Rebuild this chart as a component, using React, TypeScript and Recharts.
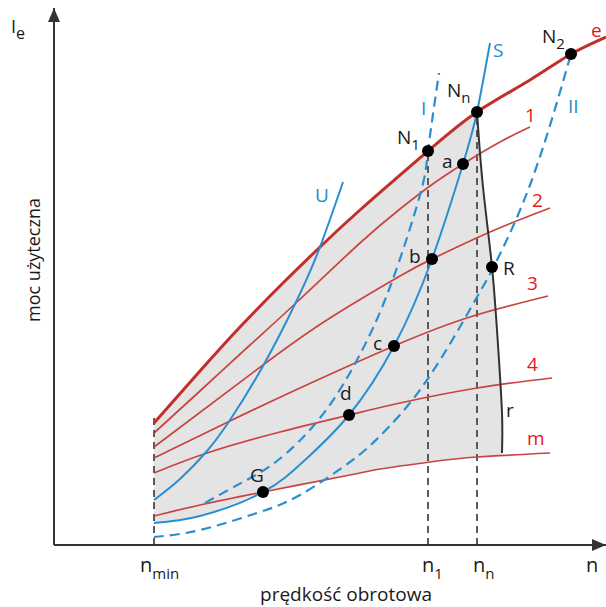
import {
  Area,
  ComposedChart,
  Line,
  ReferenceDot,
  ReferenceLine,
  Scatter,
  XAxis,
  YAxis,
} from "recharts";

const C = {
  redThick: "#c22f2a",
  red: "#c9443f",
  redText: "#e5161d",
  blue: "#2a8fd0",
  blueText: "#1d8ad4",
  ink: "#1a1a1a",
  axis: "#333333",
  guide: "#4a4a4a",
  shade: "#e4e4e4",
};
const FONT = "'Open Sans', 'Noto Sans', sans-serif";

// red curves (e = full load, 1..4, m = minimum)
const eX = [100, 146, 186, 229, 266, 306, 374, 423, 476, 517, 552];
const eY = [122, 174, 218, 262, 298, 335, 394, 433, 465, 491, 508];
const c1X = [100, 146, 196, 243, 306, 346, 376, 409, 446, 476];
const c1Y = [112, 154, 200, 243, 302, 336, 359, 381, 403, 418];
const c2X = [100, 209, 276, 346, 378, 436, 496];
const c2Y = [98, 180, 227, 269, 286, 313, 337];
const c3X = [100, 176, 246, 340, 416, 494];
const c3Y = [87, 124, 157, 199, 228, 249];
const c4X = [100, 153, 226, 295, 346, 423, 498];
const c4Y = [72, 92, 113, 130, 142, 157, 167];
const mX = [100, 146, 209, 296, 326, 376, 423, 496];
const mY = [29, 40, 53, 70, 76, 83, 88, 92];

// blue curves
const uX = [100, 126, 153, 176, 209, 243, 266, 289];
const uY = [45, 66, 94, 125, 179, 245, 298, 363];
const sX = [100, 146, 209, 251, 295, 340, 378, 409, 423, 436];
const sY = [22, 29, 53, 85, 130, 199, 286, 381, 433, 502];
const iX = [151, 189, 223, 266, 303, 336, 366, 374, 385];
const iY = [42, 63, 84, 127, 185, 258, 350, 394, 472];
const iiX = [100, 146, 203, 246, 296, 326, 373, 423, 439, 476, 517];
const iiY = [8, 15, 32, 50, 83, 109, 165, 248, 277, 360, 491];

// regulator line r
const rX = [423, 429, 438, 444, 448, 448];
const rY = [433, 358, 278, 200, 132, 92];

// shaded working area: under e, then under r
const shadeX = [100, 146, 186, 209, 229, 266, 306, 326, 374, 423];
const shadeLow = [22, 29, 44, 53, 57, 64, 72, 76, 83, 88];
const shadeHigh = [122, 174, 218, 241, 262, 298, 335, 352, 394, 433];
const shadeRX = [423, 429, 438, 444, 447.5, 448];
const shadeRLow = [88, 88, 89, 89, 90, 90];
const shadeRHigh = [433, 358, 278, 200, 132, 92];

// vertical guides n_min, n1, nn
const guideX = [100, 374, 423];
const guideTop = [127, 394, 433];

// marked points
const pointNames = ["N1", "Nn", "N2", "a", "b", "c", "d", "G", "R"];
const pointX = [374, 423, 517, 409, 378, 340, 295, 209, 438];
const pointY = [394, 433, 491, 381, 286, 199, 130, 53, 278];
const pointMain = ["N", "N", "N", "a", "b", "c", "d", "G", "R"];
const pointSub = ["1", "n", "2", "", "", "", "", "", ""];

// curve names
const curveNames = ["e", "1", "2", "3", "4", "m", "U", "S", "I", "II", "r"];
const curveLabelX = [537, 471, 478, 473, 473, 473, 261, 439, 367, 514, 452];
const curveLabelY = [508, 423, 338, 255, 174, 100, 343, 488, 430, 432, 128];

// x ticks
const tickVals = [100, 374, 423, 535];
const tickMain = ["n", "n", "n", "n"];
const tickSub = ["min", "1", "n", ""];

const zip = (xs: number[], ys: number[]) => xs.map((x, i) => ({ x, y: ys[i] }));

const labelOffset: Record<string, [number, number]> = {
  N1: [-31, -7],
  Nn: [-30, -15],
  N2: [-29, -11],
  a: [-21, 4],
  b: [-23, 4],
  c: [-21, 4],
  d: [-9, -15],
  G: [-13, -10],
  R: [11, 8],
};
const tickDx = [-14, -6, -4, -3];
const curveColor = [
  C.redText, C.redText, C.redText, C.redText, C.redText, C.redText,
  C.blueText, C.blueText, C.blueText, C.blueText, C.ink,
];

const redCurves = [
  { key: "e", xs: eX, ys: eY },
  { key: "1", xs: c1X, ys: c1Y },
  { key: "2", xs: c2X, ys: c2Y },
  { key: "3", xs: c3X, ys: c3Y },
  { key: "4", xs: c4X, ys: c4Y },
  { key: "m", xs: mX, ys: mY },
];

function NTick(props: any) {
  const { x, y, payload } = props;
  const i = tickVals.indexOf(payload.value);
  if (i < 0) return null;
  return (
    <text x={x + tickDx[i]} y={y + 19} fontFamily={FONT} fontSize={20} fill={C.ink}>
      {tickMain[i]}
      {tickSub[i] && (
        <tspan dy={7} fontSize={15}>
          {tickSub[i]}
        </tspan>
      )}
    </text>
  );
}

function YTitle(props: any) {
  const vb = props.viewBox || { x: 0, y: 8, width: 54, height: 537 };
  const cx = vb.x + 40;
  const cy = 260;
  return (
    <g fontFamily={FONT} fill={C.ink}>
      <text x={cx} y={cy} fontSize={18} textAnchor="middle" transform={`rotate(-90 ${cx} ${cy})`}>
        moc użyteczna
      </text>
      <text x={vb.x + 11} y={33} fontSize={18}>
        I
        <tspan dy={6} fontSize={16}>
          e
        </tspan>
      </text>
    </g>
  );
}

function XTitle(props: any) {
  const vb = props.viewBox || { x: 54, y: 545, width: 552, height: 62 };
  return (
    <text x={vb.x + 292} y={vb.y + 56} fontFamily={FONT} fontSize={19} fill={C.ink} textAnchor="middle">
      prędkość obrotowa
    </text>
  );
}

const pointData = pointNames.map((name, i) => ({ name, x: pointX[i], y: pointY[i], main: pointMain[i], sub: pointSub[i] }));
const curveLabelData = curveNames.map((name, i) => ({ name, x: curveLabelX[i], y: curveLabelY[i], color: curveColor[i] }));
const shadeData = shadeX.map((x, i) => ({ x, range: [shadeLow[i], shadeHigh[i]] }));
const shadeRData = shadeRX.map((x, i) => ({ x, range: [shadeRLow[i], shadeRHigh[i]] }));

export default function App() {
  return (
    <div style={{ width: 606, height: 607 }}>
      <style>{"body{margin:0}"}</style>
      <ComposedChart width={606} height={607} margin={{ top: 8, right: 0, bottom: 0, left: 0 }}>
        <XAxis
          type="number"
          dataKey="x"
          domain={[0, 552]}
          allowDataOverflow
          height={62}
          ticks={tickVals}
          interval={0}
          tick={<NTick />}
          tickLine={false}
          axisLine={{ stroke: C.axis, strokeWidth: 2 }}
          label={<XTitle />}
        />
        <YAxis
          type="number"
          domain={[0, 537]}
          allowDataOverflow
          width={54}
          tick={false}
          tickLine={false}
          axisLine={{ stroke: C.axis, strokeWidth: 2 }}
          label={<YTitle />}
        />

        <Area
          data={shadeData}
          dataKey="range"
          type="natural"
          stroke="none"
          fill={C.shade}
          fillOpacity={1}
          isAnimationActive={false}
        />
        <Area
          data={shadeRData}
          dataKey="range"
          type="linear"
          stroke="none"
          fill={C.shade}
          fillOpacity={1}
          isAnimationActive={false}
        />

        {guideX.map((gx, i) => (
          <ReferenceLine
            key={`g${i}`}
            segment={[{ x: gx, y: 0 }, { x: gx, y: guideTop[i] }]}
            stroke={C.guide}
            strokeWidth={1.8}
            strokeDasharray="7 5"
          />
        ))}

        {redCurves.map((c) => (
          <Line
            key={c.key}
            data={zip(c.xs, c.ys)}
            dataKey="y"
            type="natural"
            stroke={c.key === "e" ? C.redThick : C.red}
            strokeWidth={c.key === "e" ? 3 : 1.7}
            dot={false}
            isAnimationActive={false}
          />
        ))}

        <Line data={zip(uX, uY)} dataKey="y" type="natural" stroke={C.blue} strokeWidth={2} dot={false} isAnimationActive={false} />
        <Line data={zip(sX, sY)} dataKey="y" type="natural" stroke={C.blue} strokeWidth={2} dot={false} isAnimationActive={false} />
        <Line data={zip(iX, iY)} dataKey="y" type="natural" stroke={C.blue} strokeWidth={2.2} strokeDasharray="10 6" dot={false} isAnimationActive={false} />
        <Line data={zip(iiX, iiY)} dataKey="y" type="natural" stroke={C.blue} strokeWidth={2.2} strokeDasharray="10 6" dot={false} isAnimationActive={false} />
        <Line data={zip(rX, rY)} dataKey="y" type="natural" stroke={C.axis} strokeWidth={2} dot={false} isAnimationActive={false} />

        <Scatter
          data={pointData}
          dataKey="y"
          isAnimationActive={false}
          shape={(p: any) => <circle cx={p.cx} cy={p.cy} r={6} fill="#000" />}
        />
        <Scatter
          data={pointData}
          dataKey="y"
          isAnimationActive={false}
          shape={(p: any) => {
            const d = p.payload;
            const [dx, dy] = labelOffset[d.name];
            return (
              <text x={p.cx + dx} y={p.cy + dy} fontFamily={FONT} fontSize={19} fill={C.ink}>
                {d.main}
                {d.sub && (
                  <tspan dy={6} fontSize={15}>
                    {d.sub}
                  </tspan>
                )}
              </text>
            );
          }}
        />
        <Scatter
          data={curveLabelData}
          dataKey="y"
          isAnimationActive={false}
          shape={(p: any) => (
            <text x={p.cx} y={p.cy} fontFamily={FONT} fontSize={19} fill={p.payload.color}>
              {p.payload.name}
            </text>
          )}
        />

        <ReferenceDot
          x={552}
          y={0}
          r={0}
          shape={(p: any) => (
            <polygon points={`${p.cx},${p.cy} ${p.cx - 14},${p.cy - 6} ${p.cx - 14},${p.cy + 6}`} fill={C.axis} />
          )}
        />
        <ReferenceDot
          x={0}
          y={537}
          r={0}
          shape={(p: any) => (
            <polygon points={`${p.cx},${p.cy} ${p.cx - 6},${p.cy + 14} ${p.cx + 6},${p.cy + 14}`} fill={C.axis} />
          )}
        />
      </ComposedChart>
    </div>
  );
}
